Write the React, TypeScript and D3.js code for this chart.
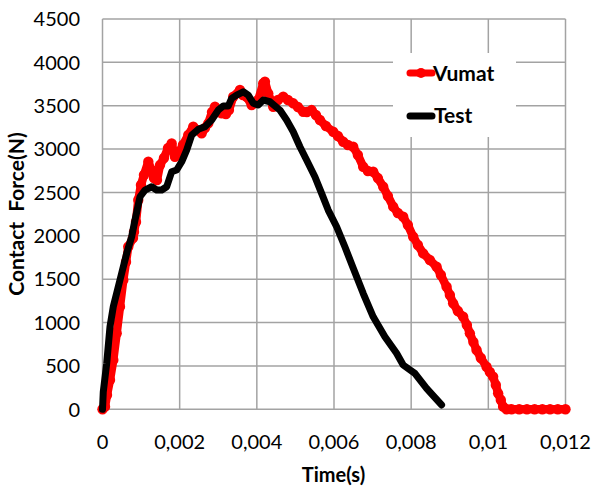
import React from "react";
import * as d3 from "d3";

const testTime = [0, 0.00002, 0.000109, 0.000194, 0.00028, 0.000453, 0.000627, 0.000756, 0.000842, 0.000972, 0.001101, 0.001275, 0.001404, 0.001534, 0.001663, 0.001793, 0.001922, 0.002052, 0.002181, 0.002311, 0.002482, 0.002655, 0.002829, 0.003, 0.00313, 0.003259, 0.003347, 0.003477, 0.003648, 0.003777, 0.003907, 0.004036, 0.004166, 0.004339, 0.004598, 0.004772, 0.004943, 0.005117, 0.00529, 0.005505, 0.005679, 0.00585, 0.006068, 0.006282, 0.006497, 0.006756, 0.007016, 0.007319, 0.007622, 0.007793, 0.008096, 0.008399, 0.008788];
const testForce = [0, 200, 530, 952, 1183, 1491, 1798, 1990, 2182, 2451, 2528, 2566, 2528, 2528, 2566, 2739, 2759, 2854, 2989, 3162, 3228, 3258, 3335, 3450, 3496, 3496, 3585, 3623, 3661, 3623, 3528, 3508, 3566, 3546, 3450, 3335, 3200, 3027, 2874, 2681, 2490, 2297, 2105, 1874, 1629, 1337, 1067, 837, 646, 511, 415, 242, 50];

const vumatTime = [0, 0.000065, 0.000117, 0.000194, 0.00028, 0.000368, 0.000453, 0.000539, 0.000609, 0.000668, 0.00079, 0.000816, 0.000868, 0.000927, 0.000997, 0.001075, 0.001187, 0.001269, 0.001334, 0.001412, 0.00149, 0.001593, 0.001697, 0.001793, 0.001878, 0.001982, 0.002085, 0.002223, 0.002352, 0.002448, 0.00257, 0.002655, 0.002741, 0.002837, 0.002915, 0.002992, 0.003088, 0.0032, 0.003277, 0.003389, 0.003562, 0.00364, 0.003736, 0.003865, 0.003951, 0.004036, 0.004166, 0.00421, 0.004295, 0.004425, 0.004547, 0.004684, 0.004806, 0.004943, 0.005065, 0.005202, 0.005298, 0.00542, 0.005531, 0.005635, 0.00579, 0.005979, 0.006101, 0.006238, 0.00636, 0.006497, 0.006619, 0.006756, 0.006878, 0.007016, 0.007137, 0.007275, 0.007396, 0.007534, 0.007655, 0.007793, 0.007915, 0.008052, 0.008174, 0.008311, 0.008484, 0.008658, 0.00877, 0.008917, 0.009003, 0.009088, 0.00921, 0.009347, 0.009443, 0.009521, 0.009612, 0.009694, 0.009806, 0.009953, 0.010039, 0.010124, 0.010194, 0.010254, 0.010324, 0.010383, 0.010471, 0.0106, 0.0108, 0.011, 0.0112, 0.0114, 0.0116, 0.0118, 0.012];
const vumatForce = [0, 30, 165, 338, 568, 876, 1183, 1491, 1698, 1874, 1975, 2044, 2159, 2413, 2586, 2701, 2854, 2759, 2666, 2643, 2816, 2897, 3012, 3066, 2912, 2966, 3047, 3162, 3258, 3220, 3182, 3243, 3297, 3427, 3488, 3427, 3412, 3404, 3450, 3604, 3681, 3623, 3604, 3508, 3531, 3566, 3758, 3777, 3643, 3488, 3566, 3604, 3566, 3528, 3485, 3431, 3427, 3450, 3393, 3335, 3266, 3200, 3151, 3085, 3047, 3027, 2932, 2797, 2747, 2739, 2666, 2566, 2459, 2336, 2263, 2220, 2125, 1990, 1894, 1798, 1721, 1644, 1548, 1413, 1318, 1222, 1133, 1067, 972, 876, 776, 684, 591, 491, 430, 376, 280, 184, 107, 30, 0, 0, 0, 0, 0, 0, 0, 0, 0];

const xTicks = [0, 0.002, 0.004, 0.006, 0.008, 0.01, 0.012];
const xTickLabels = ["0", "0,002", "0,004", "0,006", "0,008", "0,01", "0,012"];
const yTicks = [0, 500, 1000, 1500, 2000, 2500, 3000, 3500, 4000, 4500];

const seriesNames = ["Vumat", "Test"];

export default function App() {
  const W = 596, H = 494;
  const x = d3.scaleLinear().domain([0, 0.012]).range([102.5, 565.5]);
  const y = d3.scaleLinear().domain([0, 4500]).range([409.3, 19]);
  const vumat = vumatTime.map((t, i) => [t, vumatForce[i]] as [number, number]);
  const test = testTime.map((t, i) => [t, testForce[i]] as [number, number]);
  const line = d3.line<[number, number]>().x(d => x(d[0])).y(d => y(d[1]));
  const font = "Lato, 'Open Sans', sans-serif";
  const grid = "#a3a3a3";
  return (
    <svg width={W} height={H} style={{ position: "absolute", left: 0, top: 0, background: "#fff" }}>
      <rect x={0} y={0} width={W} height={H} fill="#fff" />
      {xTicks.map((t, i) => (
        <line key={"gx" + i} x1={x(t)} x2={x(t)} y1={y(4500)} y2={y(0)} stroke={grid} strokeWidth={1.5} />
      ))}
      {yTicks.map((v, i) => (
        <line key={"gy" + i} x1={x(0)} x2={x(0.012)} y1={y(v)} y2={y(v)} stroke={grid} strokeWidth={1.5} />
      ))}
      <rect x={393} y={53} width={123} height={84} fill="#fff" />
      {yTicks.map((v, i) => (
        <text key={"ty" + i} x={80} y={y(v)} dy="0.36em" textAnchor="end" fontFamily={font} fontSize={20} fill="#000">{v}</text>
      ))}
      {xTicks.map((t, i) => (
        <text key={"tx" + i} x={x(t)} y={449} textAnchor="middle" fontFamily={font} fontSize={20} fill="#000">{xTickLabels[i]}</text>
      ))}
      <text x={333.5} y={482} textAnchor="middle" fontFamily={font} fontSize={20} fontWeight="bold" fill="#000">Time(s)</text>
      <text transform={`translate(24, ${214}) rotate(-90)`} textAnchor="middle" fontFamily={font} fontSize={21} fontWeight="bold" fill="#000" style={{ whiteSpace: "pre" }}>{"Contact  Force(N)"}</text>
      <path d={line(vumat) || ""} fill="none" stroke="#ff0000" strokeWidth={8.5} strokeLinejoin="round" strokeLinecap="round" />
      {vumat.map((d, i) => (
        <circle key={"m" + i} cx={x(d[0])} cy={y(d[1])} r={5.2} fill="#ff0000" />
      ))}
      <path d={line(test) || ""} fill="none" stroke="#000" strokeWidth={7} strokeLinejoin="round" strokeLinecap="round" />
      <line x1={410} x2={432} y1={73} y2={73} stroke="#ff0000" strokeWidth={7} strokeLinecap="round" />
      <circle cx={421} cy={73} r={5} fill="#ff0000" />
      <text x={433} y={80.5} fontFamily={font} fontSize={21} fontWeight="bold" fill="#000">{seriesNames[0]}</text>
      <line x1={410} x2={432} y1={116} y2={116} stroke="#000" strokeWidth={7} strokeLinecap="round" />
      <text x={434} y={122.5} fontFamily={font} fontSize={21} fontWeight="bold" fill="#000">{seriesNames[1]}</text>
    </svg>
  );
}
